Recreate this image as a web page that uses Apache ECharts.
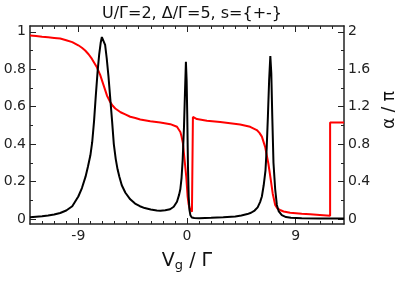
<!DOCTYPE html>
<html>
<head>
<meta charset="utf-8">
<script src="https://cdn.jsdelivr.net/npm/echarts@6/dist/echarts.min.js"></script>
<style>html,body{margin:0;padding:0;background:#fff}#c{width:395px;height:284px}</style>
</head>
<body>
<div id="c"></div>
<script>
// Transmission (left axis)
var transVg = [-13,-12.5,-12,-11.5,-11,-10.5,-10,-9.5,-9,-8.7,-8.4,-8.2,-8.0,-7.85,-7.7,-7.55,-7.4,-7.27,-7.15,-7.05,-6.98,-6.9,-6.78,-6.65,-6.5,-6.35,-6.2,-6.06,-5.9,-5.75,-5.6,-5.4,-5.1,-4.7,-4.3,-3.9,-3.5,-3.0,-2.5,-2.2,-1.8,-1.4,-1.1,-0.83,-0.65,-0.55,-0.45,-0.36,-0.25,-0.17,-0.09,-0.03,0.02,0.08,0.14,0.2,0.28,0.4,0.6,1.0,2.0,3.0,4.0,4.5,5.0,5.3,5.6,5.85,6.05,6.2,6.35,6.5,6.6,6.7,6.8,6.9,6.98,7.06,7.16,7.3,7.44,7.6,7.85,8.2,8.6,9.5,11,13];
var transVal = [0.009,0.012,0.015,0.019,0.024,0.032,0.045,0.068,0.12,0.165,0.226,0.28,0.34,0.41,0.52,0.66,0.79,0.88,0.94,0.972,0.98,0.97,0.93,0.86,0.76,0.64,0.52,0.40,0.32,0.265,0.225,0.18,0.14,0.105,0.082,0.068,0.058,0.05,0.045,0.044,0.046,0.052,0.065,0.092,0.13,0.16,0.22,0.315,0.49,0.67,0.84,0.74,0.56,0.28,0.12,0.05,0.02,0.008,0.005,0.004,0.006,0.009,0.013,0.018,0.026,0.033,0.045,0.062,0.09,0.12,0.18,0.26,0.38,0.55,0.74,0.87,0.78,0.55,0.3,0.16,0.075,0.04,0.02,0.01,0.006,0.004,0.003,0.003];
// Phase alpha/pi (right axis)
var phaseVg = [-13,-12.5,-12,-11.5,-11,-10.5,-10,-9.5,-9,-8.7,-8.43,-8.15,-7.87,-7.66,-7.46,-7.19,-6.91,-6.63,-6.36,-6.15,-5.94,-5.5,-5.11,-4.7,-4.28,-3.87,-3.04,-2.21,-1.38,-0.83,-0.55,-0.45,-0.34,-0.2,-0.06,0.05,0.13,0.22,0.41,0.49,0.49,0.82,1.65,2.75,4.4,5.23,5.78,6.0,6.2,6.47,6.74,6.94,7.1,7.3,7.5,7.7,8.0,8.54,9.5,10.2,11,11.85,11.85,13];
var phaseVal = [1.96,1.955,1.948,1.942,1.935,1.928,1.91,1.89,1.856,1.83,1.80,1.76,1.71,1.665,1.62,1.54,1.43,1.32,1.25,1.21,1.18,1.14,1.117,1.092,1.078,1.063,1.045,1.03,1.013,0.985,0.93,0.88,0.81,0.63,0.45,0.24,0.16,0.114,0.078,0.075,1.09,1.067,1.05,1.035,1.01,0.985,0.95,0.92,0.88,0.77,0.59,0.416,0.27,0.15,0.11,0.096,0.08,0.067,0.055,0.05,0.043,0.035,1.03,1.03];
// Ticks
var xMinorTicks = [-12,-11,-10,-9,-8,-7,-6,-5,-4,-3,-2,-1,0,1,2,3,4,5,6,7,8,9,10,11,12];
var xMajorTicks = [-9,0,9];
var yLeftMinor = [0,0.1,0.2,0.3,0.4,0.5,0.6,0.7,0.8,0.9,1];
var yLeftMajor = [0,0.2,0.4,0.6,0.8,1];
var yRightMinor = [0,0.2,0.4,0.6,0.8,1,1.2,1.4,1.6,1.8,2];
var yRightMajor = [0,0.4,0.8,1.2,1.6,2];

function zip(a,b){return a.map(function(v,i){return [v,b[i]];});}

var FONT = 'DejaVu Sans';
var AX = '#222';
function xAx(pos, ticks, len, labels, line){
  return {type:'value', min:-13, max:13, position:pos,
    axisLine:{show:line, onZero:false, lineStyle:{color:AX, width:1.5}},
    axisTick:{show:true, inside:true, length:len, customValues:ticks, lineStyle:{color:AX, width:1}},
    axisLabel:labels ? {show:true, customValues:labels, margin:5, color:'#222', fontFamily:FONT, fontSize:14} : {show:false},
    splitLine:{show:false}};
}
function yAx(pos, min, max, ticks, len, labels, line){
  return {type:'value', min:min, max:max, position:pos,
    axisLine:{show:line, onZero:false, lineStyle:{color:AX, width:1.5}},
    axisTick:{show:true, inside:true, length:len, customValues:ticks, lineStyle:{color:AX, width:1}},
    axisLabel:labels ? {show:true, customValues:labels, margin:4, color:'#222', fontFamily:FONT, fontSize:14} : {show:false},
    splitLine:{show:false}};
}

var xAxes = [
  xAx('bottom', xMinorTicks, 3, xMajorTicks, true),
  xAx('bottom', xMajorTicks, 6, null, false),
  xAx('top', xMinorTicks, 3, null, true),
  xAx('top', xMajorTicks, 6, null, false)
];
xAxes[0].name = '{v|V}{s|g}{v| / Γ}';
xAxes[0].nameLocation = 'middle';
xAxes[0].nameGap = 27;
xAxes[0].nameTextStyle = {rich:{v:{fontFamily:FONT, fontSize:19, color:'#111'}, s:{fontFamily:FONT, fontSize:13, color:'#111', verticalAlign:'bottom', padding:[8,0,0,0]}}};

var yAxes = [
  yAx('left', -0.027, 1.031, yLeftMinor, 3, yLeftMajor, true),
  yAx('left', -0.027, 1.031, yLeftMajor, 6, null, false),
  yAx('right', -0.054, 2.062, yRightMinor, 3, yRightMajor, true),
  yAx('right', -0.054, 2.062, yRightMajor, 6, null, false)
];
yAxes[2].name = 'α / π';
yAxes[2].nameLocation = 'middle';
yAxes[2].nameGap = 33;
yAxes[2].nameRotate = 90;
yAxes[2].nameTextStyle = {fontFamily:FONT, fontSize:17, color:'#111', padding:[0,0,0,30]};

var chart = echarts.init(document.getElementById('c'), null, {renderer:'canvas'});
chart.setOption({
  animation:false,
  backgroundColor:'#fff',
  title:{text:'U/Γ=2, Δ/Γ=5, s={+-}', left:187, top:1, textAlign:'center',
    textStyle:{fontFamily:FONT, fontSize:16, fontWeight:'normal', color:'#111'}},
  grid:{left:30, right:51, top:26, bottom:60, containLabel:false, outerBoundsMode:'none'},
  xAxis:xAxes,
  yAxis:yAxes,
  series:[
    {type:'line', xAxisIndex:0, yAxisIndex:0, data:zip(transVg,transVal), showSymbol:false, symbol:'none',
      lineStyle:{color:'#000', width:2}, z:3},
    {type:'line', xAxisIndex:0, yAxisIndex:2, data:zip(phaseVg,phaseVal), showSymbol:false, symbol:'none',
      lineStyle:{color:'#ff0000', width:2}, z:2}
  ]
});
</script>
</body>
</html>
